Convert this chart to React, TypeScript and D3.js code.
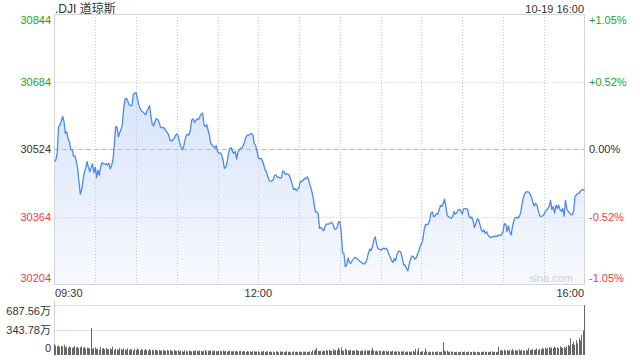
import React from "react";
import * as d3 from "d3";

// ---- data ----
const title = ".DJI 道琼斯";
const stamp = "10-19 16:00";
const prevClose = 30524;
const priceTicks = [30844, 30684, 30524, 30364, 30204];
const pctLabels = ["+1.05%", "+0.52%", "0.00%", "-0.52%", "-1.05%"];
const timeLabels = ["09:30", "12:00", "16:00"];
const timeMinutes = [0, 150, 390];
const volTicks = [687.56, 343.78, 0];
const volLabels = ["687.56万", "343.78万", "0"];

// one value per minute, 09:30 .. 16:00
const prices = [
  30494,30498,30516,30577,30581,30590,30601,30589,30561,30565,
  30548,30541,30522,30522,30507,30508,30496,30478,30447,30417,
  30427,30451,30469,30480,30494,30480,30470,30481,30489,30468,
  30481,30456,30474,30462,30482,30492,30488,30488,30489,30486,
  30490,30477,30485,30498,30533,30577,30576,30553,30563,30570,
  30585,30624,30643,30644,30637,30629,30627,30627,30654,30656,
  30658,30644,30628,30620,30614,30612,30609,30605,30614,30620,
  30627,30601,30582,30579,30590,30596,30594,30587,30576,30574,
  30575,30573,30567,30563,30557,30545,30543,30545,30549,30556,
  30560,30555,30541,30530,30522,30530,30545,30557,30559,30557,
  30569,30593,30596,30587,30592,30595,30594,30601,30607,30609,
  30581,30577,30582,30569,30556,30537,30533,30530,30526,30532,
  30518,30514,30515,30510,30498,30478,30481,30492,30514,30525,
  30527,30518,30514,30518,30500,30517,30522,30526,30526,30533,
  30542,30553,30557,30557,30559,30561,30557,30537,30532,30519,
  30502,30501,30501,30496,30486,30474,30470,30458,30449,30448,
  30448,30451,30462,30462,30457,30457,30455,30456,30472,30469,
  30464,30465,30464,30460,30450,30439,30428,30430,30425,30429,
  30434,30448,30447,30450,30454,30454,30458,30451,30439,30427,
  30415,30395,30375,30375,30371,30336,30338,30334,30330,30339,
  30346,30346,30346,30349,30350,30345,30334,30334,30339,30351,
  30352,30328,30277,30276,30245,30249,30266,30255,30253,30259,
  30263,30267,30266,30263,30260,30257,30255,30252,30252,30255,
  30264,30277,30287,30283,30293,30308,30316,30299,30288,30286,
  30285,30286,30289,30287,30289,30285,30275,30268,30260,30255,
  30264,30259,30274,30281,30282,30278,30263,30249,30249,30241,
  30235,30251,30263,30270,30270,30263,30265,30274,30281,30293,
  30299,30308,30332,30345,30345,30346,30353,30372,30375,30364,
  30365,30371,30369,30379,30390,30388,30394,30405,30387,30366,
  30364,30361,30360,30364,30376,30369,30372,30380,30381,30377,
  30370,30382,30382,30383,30380,30365,30360,30363,30354,30338,
  30346,30358,30357,30345,30333,30328,30332,30324,30328,30320,
  30316,30314,30316,30316,30318,30316,30319,30320,30319,30321,
  30328,30347,30346,30328,30342,30328,30320,30340,30354,30361,
  30362,30360,30364,30372,30393,30409,30418,30422,30423,30422,
  30417,30410,30397,30389,30395,30391,30378,30366,30364,30365,
  30368,30375,30379,30383,30387,30402,30381,30387,30372,30391,
  30383,30391,30380,30376,30383,30365,30402,30383,30376,30372,
  30369,30368,30376,30411,30415,30419,30419,30424,30427,30428,
  30425,
];

// volume per minute, in 万
const volumes = [
  150,128,120,132,110,125,118,140,105,115,98,120,110,95,108,125,100,112,92,105,
  118,96,110,88,102,95,90,372,85,98,105,80,92,70,110,88,95,78,100,82,
  75,90,80,115,72,85,78,68,95,80,72,88,75,70,92,65,80,78,62,85,
  70,88,75,60,82,72,65,78,70,58,80,66,72,62,75,68,55,70,64,58,
  72,62,55,68,60,75,58,50,66,62,55,70,48,60,52,45,65,58,50,62,
  55,48,60,52,65,58,50,62,55,48,58,70,52,60,55,65,50,58,62,54,
  48,60,55,52,62,50,58,45,55,60,52,48,58,50,55,45,52,58,48,55,
  50,45,55,48,52,42,50,55,45,48,52,40,50,46,55,42,48,52,45,50,
  42,48,40,52,45,38,50,44,48,40,46,52,42,48,38,45,50,42,46,40,
  48,44,38,46,42,50,40,45,48,38,65,58,75,95,60,52,58,48,62,55,
  68,58,72,62,55,80,60,70,65,100,75,105,62,58,88,70,65,60,72,58,
  66,55,70,62,58,52,65,60,55,68,62,58,66,64,100,60,52,58,50,62,
  55,48,60,52,58,45,55,50,48,58,45,52,48,55,42,50,46,52,40,48,
  45,50,42,48,55,44,85,50,95,42,48,52,40,90,50,38,46,42,48,40,
  44,40,48,42,38,46,175,60,48,62,40,50,44,48,42,40,46,42,38,44,
  45,40,48,42,38,46,44,40,48,42,40,46,42,38,44,40,46,48,42,40,
  44,50,48,42,46,40,44,115,62,70,58,75,60,68,55,72,62,80,58,70,
  58,66,75,60,72,65,58,70,62,95,68,72,80,70,75,90,70,85,78,95,
  88,100,82,95,110,92,105,98,115,100,108,95,120,105,100,110,98,120,140,125,
  230,150,185,140,205,160,230,200,275,335,687.56,
];

const GREEN = "#22a322";
const RED = "#f03c3c";
const DARK = "#333";
const FONT = "'Liberation Sans', Arial, 'Noto Sans CJK SC', sans-serif";

export default function App() {
  const left = 54.5, right = 584.5, top = 14, bottom = 284;
  const x = d3.scaleLinear().domain([0, 390]).range([left, right]);
  const y = d3.scaleLinear().domain([30204, 30844]).range([bottom, top]);
  const yv = d3.scaleLinear().domain([0, 687.56]).range([355, 305]);

  const line = d3.line<number>().x((_, i) => x(i)).y((d) => y(d));
  const area = d3.area<number>().x((_, i) => x(i)).y0(bottom).y1((d) => y(d));

  const gridMinutes = d3.range(30, 390, 30);
  const colorFor = (v: number) => (v > prevClose ? GREEN : v < prevClose ? RED : DARK);

  return (
    <svg width={640} height={360} style={{ position: "absolute", left: 0, top: 0, background: "#fff" }} fontFamily={FONT}>
      <defs>
        <linearGradient id="fillGrad" x1="0" y1="0" x2="0" y2="1">
          <stop offset="0%" stopColor="#d7e4fb" />
          <stop offset="100%" stopColor="#f7f9fe" />
        </linearGradient>
      </defs>

      {/* header */}
      <text x={55} y={12.5} fontSize={12} fill={DARK}>{title}</text>
      <text x={584} y={12.5} fontSize={11} fill={DARK} textAnchor="end">{stamp}</text>

      {/* area + grid */}
      <path d={area(prices) || ""} fill="url(#fillGrad)" />
      {gridMinutes.map((m) => (
        <line key={"vg" + m} x1={Math.round(x(m)) + 0.5} x2={Math.round(x(m)) + 0.5} y1={top} y2={bottom}
          stroke="#c8c8c8" strokeDasharray="1,2" />
      ))}
      {priceTicks.slice(1, 4).map((p) => (
        <line key={"hg" + p} x1={left} x2={right} y1={Math.round(y(p)) + 0.5} y2={Math.round(y(p)) + 0.5}
          stroke="#c8c8c8" strokeDasharray="1,2" />
      ))}
      <line x1={left} x2={right} y1={Math.round(y(prevClose)) + 0.5} y2={Math.round(y(prevClose)) + 0.5}
        stroke="#f2a46e" strokeDasharray="4,4" />

      {/* borders */}
      <rect x={left} y={top + 0.5} width={right - left} height={bottom - top} fill="none" stroke="#d4d4d4" />

      {/* watermark */}
      <text x={573} y={282} fontSize={11} fill="#cfcfcf" textAnchor="end">sina.com</text>

      {/* price line */}
      <path d={line(prices) || ""} fill="none" stroke="#4a89f0" strokeWidth={1.3} strokeLinejoin="round" />

      {/* left price labels and right pct labels */}
      {priceTicks.map((p, i) => {
        const yy = y(p);
        const base = i === 0 ? yy + 10 : i === priceTicks.length - 1 ? yy - 2.5 : yy + 4;
        return (
          <g key={"pl" + p}>
            <text x={51} y={base} fontSize={11} fill={colorFor(p)} textAnchor="end">{p}</text>
            <text x={589} y={base} fontSize={11} fill={colorFor(p)}>{pctLabels[i]}</text>
          </g>
        );
      })}

      {/* time labels */}
      {timeLabels.map((t, i) => (
        <text key={t} x={i === 0 ? 55 : i === 2 ? 584 : x(timeMinutes[i])} y={297} fontSize={11} fill={DARK}
          textAnchor={i === 0 ? "start" : i === 2 ? "end" : "middle"}>{t}</text>
      ))}

      {/* volume panel */}
      <line x1={left} x2={left} y1={300} y2={356} stroke="#d4d4d4" />
      {volTicks.slice(0, 2).map((v) => (
        <line key={"vl" + v} x1={left} x2={right} y1={Math.round(yv(v)) + 0.5} y2={Math.round(yv(v)) + 0.5}
          stroke="#bdbdbd" strokeDasharray="1,1" />
      ))}
      {volumes.map((v, i) => (
        <rect key={"vb" + i} x={Math.floor(x(i))} y={yv(v)} width={1} height={yv(0) - yv(v)} fill="#666" />
      ))}
      {volTicks.map((v, i) => {
        const yy = yv(v);
        const base = i === 0 ? yy + 10 : i === 2 ? yy - 3 : yy + 4;
        return (
          <text key={"vt" + v} x={51} y={base} fontSize={11} fill={DARK} textAnchor="end">{volLabels[i]}</text>
        );
      })}
    </svg>
  );
}
